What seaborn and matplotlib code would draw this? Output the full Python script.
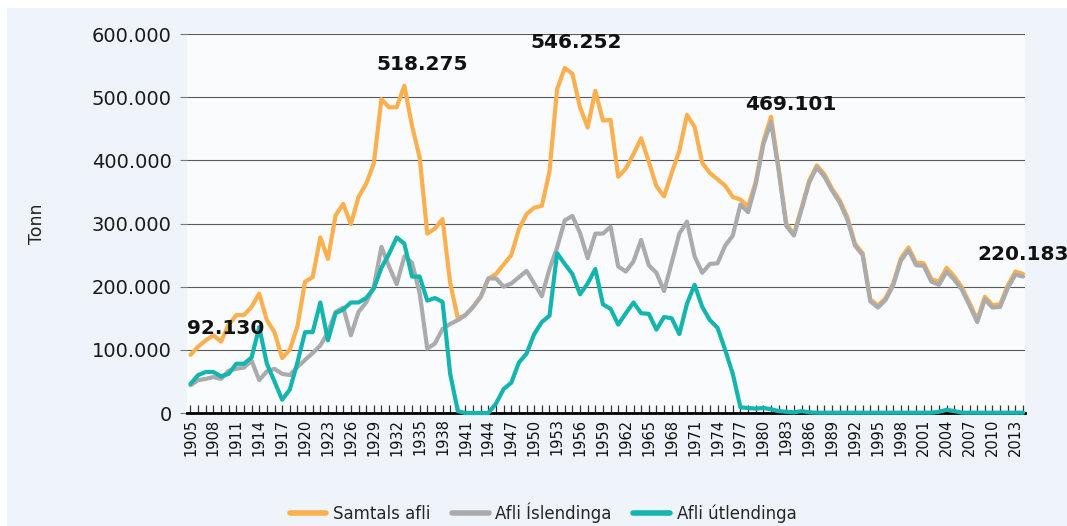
import matplotlib
matplotlib.use("Agg")
import matplotlib.pyplot as plt
import matplotlib.ticker as mticker
from matplotlib.patches import Rectangle
import pandas as pd
import seaborn as sns

# ---------------- data (thousand tonnes) ----------------
years = list(range(1905, 2015))

samtals_afli = [
    92.13, 105, 115, 123, 113, 140, 155, 155, 168, 189,          # 1905-1914
    147, 128, 87, 100, 137, 208, 215, 278, 244, 313,             # 1915-1924
    331, 299, 342, 363, 395, 497, 484, 484, 518.275, 455,        # 1925-1934
    405, 284, 292, 307, 206, 150, 155, 168, 184, 213,            # 1935-1944
    220, 235, 250, 291, 315, 325, 328, 382, 513, 546.252,        # 1945-1954
    537, 484, 452, 510, 463, 464, 374, 387, 410, 435,            # 1955-1964
    398, 359, 343, 380, 415, 472, 453, 396, 380, 370,            # 1965-1974
    360, 342, 338, 327, 366, 430, 469.101, 388, 300, 283,        # 1975-1984
    325, 368, 392, 378, 355, 337, 310, 268, 253, 180,            # 1985-1994
    170, 182, 205, 245, 262, 238, 237, 212, 208, 230,            # 1995-2004
    216, 199, 174, 148, 184, 171, 172, 202, 224, 220.183,        # 2005-2014
]

afli_islendinga = [
    44, 52, 54, 57, 54, 67, 70, 72, 83, 52,
    66, 70, 62, 60, 73, 84, 95, 107, 128, 160,
    167, 123, 160, 175, 200, 263, 232, 204, 248, 238,
    190, 102, 110, 133, 141, 147, 155, 168, 184, 213,
    213, 200, 205, 215, 225, 205, 185, 228, 262, 305,
    312, 285, 245, 284, 284, 295, 232, 224, 240, 274,
    234, 222, 193, 238, 284, 303, 248, 222, 236, 237,
    265, 281, 330, 318, 362, 425, 461, 384, 296, 281,
    322, 365, 389, 374, 352, 333, 306, 265, 250, 177,
    167, 179, 202, 241, 258, 234, 233, 208, 203, 224,
    211, 195, 170, 144, 180, 167, 168, 198, 219, 216,
]

afli_utlendinga = [
    46, 60, 65, 65, 58, 62, 78, 78, 88, 136,
    78, 50, 21, 37, 80, 128, 128, 175, 115, 158,
    164, 175, 175, 182, 197, 230, 252, 278, 268, 216,
    216, 178, 182, 176, 62, 3, 0, 0, 0, 0,
    15, 38, 48, 80, 94, 125, 144, 154, 253, 236,
    220, 188, 205, 228, 172, 165, 140, 158, 175, 158,
    157, 132, 152, 150, 125, 173, 203, 168, 147, 135,
    100, 62, 9, 8, 7, 8, 6, 3, 2, 1,
    3, 1, 0.5, 0.5, 0.5, 0.5, 0.5, 0.5, 0.5, 0.5,
    0.5, 0.5, 0.5, 0.5, 0.5, 0.5, 0.5, 0.5, 2, 5,
    3, 0.5, 0.5, 0.5, 0.5, 0.5, 0.5, 0.5, 0.5, 0.5,
]

series_names = ["Samtals afli", "Afli Íslendinga", "Afli útlendinga"]
series_colors = ["#FBB050", "#ABABAE", "#14B5AE"]
y_label = "Tonn"
annotated_years = [1905, 1933, 1954, 1981, 2014]

# ---------------- build long-form table ----------------
frames = []
for name, vals in zip(series_names, [samtals_afli, afli_islendinga, afli_utlendinga]):
    frames.append(pd.DataFrame({"year": years,
                                "value": [v * 1000 for v in vals],
                                "series": name}))
df = pd.concat(frames, ignore_index=True)

# ---------------- style ----------------
sns.set_style("white")
plt.rcParams["font.family"] = ["DejaVu Sans"]

fig = plt.figure(figsize=(10.67, 5.26), dpi=100)
fig.patch.set_facecolor("white")
fig.patches.append(Rectangle((7 / 1067, 0), 1 - 7 / 1067, 1 - 8 / 526,
                             transform=fig.transFigure, facecolor="#eef4fa",
                             edgecolor="none", zorder=-10))

ax = fig.add_axes([0.1753, 0.2148, 0.7853, 0.7205])
ax.set_facecolor("#f9fbfd")

sns.lineplot(data=df, x="year", y="value", hue="series",
             hue_order=series_names, palette=series_colors,
             linewidth=3.0, ax=ax, legend=True)

for ln in ax.lines:
    ln.set_solid_joinstyle("round")
    ln.set_solid_capstyle("round")
    ln.set_clip_on(False)
    ln.set_zorder(3)

# axes limits & ticks
ax.set_xlim(1904.55, 2014.25)
ax.set_ylim(0, 600000)
ax.yaxis.set_major_locator(mticker.MultipleLocator(100000))
ax.yaxis.set_major_formatter(mticker.FuncFormatter(
    lambda v, p: f"{v:,.0f}".replace(",", ".")))
ax.set_xticks(years[::3])
ax.set_xticklabels([str(y) for y in years[::3]], rotation=90)
ax.xaxis.set_minor_locator(mticker.MultipleLocator(1))
ax.tick_params(axis="x", which="both", direction="in", length=6,
               width=0.9, color="#333333", labelsize=10.5, pad=4,
               bottom=True, labelcolor="#111111")
ax.tick_params(axis="y", which="major", direction="out", length=5,
               width=0.8, color="#777777", labelsize=14, pad=6, left=True,
               labelcolor="#1a1a1a")

ax.yaxis.grid(True, color="#5a5a5a", linewidth=0.8)
ax.xaxis.grid(False)
ax.set_axisbelow(True)

for side in ["top", "right", "left"]:
    ax.spines[side].set_visible(False)
ax.spines["bottom"].set_color("black")
ax.spines["bottom"].set_linewidth(2)
ax.spines["bottom"].set_zorder(2.5)

ax.set_xlabel("")
ax.set_ylabel(y_label, fontsize=12.5, color="#222222")
ax.yaxis.set_label_coords(-0.168, 0.5)

# annotations of selected totals
offsets = {1905: (25, 19), 1933: (13, 15), 1954: (8, 18),
           1981: (14, 9), 2014: (0, 14)}
for yr in annotated_years:
    v = samtals_afli[years.index(yr)] * 1000
    ax.annotate(f"{v:,.0f}".replace(",", "."), xy=(yr, v),
                xytext=offsets[yr], textcoords="offset points",
                ha="center", va="center", fontsize=14.5,
                fontweight="bold", color="#111111",
                annotation_clip=False, zorder=5)

# legend at the bottom
leg = ax.get_legend()
handles = leg.legend_handles
labels = [t.get_text() for t in leg.get_texts()]
leg.remove()
for h in handles:
    h.set_linewidth(4)
    h.set_solid_capstyle("round")
fig.legend(handles, labels, loc="center", bbox_to_anchor=(0.509, 0.025),
           ncol=3, frameon=False, fontsize=12, handlelength=2.2,
           handletextpad=0.4, columnspacing=1.3)

fig.savefig("out.png", dpi=100)
